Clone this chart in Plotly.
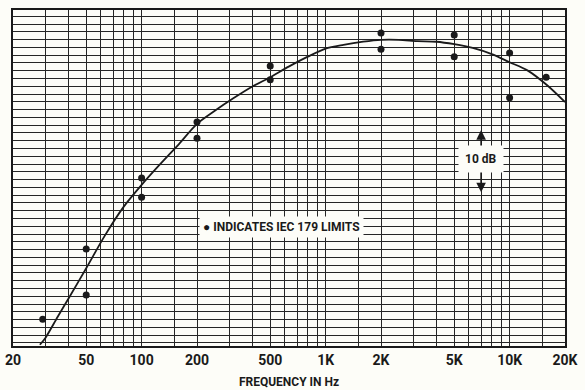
import math

import plotly.graph_objects as go

# Weighting curve (dB, relative to 1 kHz ~ 0 dB)
curve_freq = [28, 30, 35, 40, 50, 63, 80, 100, 125, 160, 200, 250, 315, 400, 500,
              630, 800, 1000, 1250, 1600, 2000, 2500, 3150, 4000, 5000, 6300,
              8000, 10000, 12500, 16000, 20000]
curve_db = [-47.8, -46.7, -43.3, -40.4, -35.5, -30.3, -25.6, -22.1, -18.9, -15.5,
            -12.3, -10.2, -8.2, -6.3, -4.8, -3.1, -1.5, -0.2, 0.4, 0.9, 1.2, 1.2,
            1.0, 0.9, 0.5, -0.1, -1.1, -2.4, -3.7, -6.1, -8.8]

# IEC 179 tolerance points (dots)
limit_freq = [29, 50, 50, 100, 100, 200, 200, 500, 500, 2000, 2000, 5000, 5000,
              10000, 10000, 15800]
limit_db = [-43.7, -32.4, -39.8, -21.0, -24.1, -12.0, -14.6, -3.0, -5.2, 2.3,
            -0.3, 2.0, -1.5, -0.9, -8.1, -4.8]

# x axis: grid at 1, 1.5, 2..9 of each decade, labels only at 1-2-5
grid_freq = [m * d for d in (10, 100, 1000, 10000)
             for m in (1, 1.5, 2, 3, 4, 5, 6, 7, 8, 9)]
grid_freq = [f for f in grid_freq if 20 <= f <= 20000]
label_map = {20: "20", 50: "50", 100: "100", 200: "200", 500: "500",
             1000: "1K", 2000: "2K", 5000: "5K", 10000: "10K", 20000: "20K"}
tick_text = [label_map.get(f, "") for f in grid_freq]

# 10 dB scale marker
scale_freq = 7000
scale_top, scale_bottom = -13.3, -23.3

FONT = "Roboto, Liberation Sans, sans-serif"
INK = "#1a1a1a"
GRID = "#262626"
PAPER = "#fdfdf8"

fig = go.Figure()

fig.add_trace(go.Scatter(
    x=curve_freq, y=curve_db, mode="lines",
    line=dict(color=INK, width=1.8, shape="spline", smoothing=0.8),
    hoverinfo="skip", showlegend=False,
))
fig.add_trace(go.Scatter(
    x=limit_freq, y=limit_db, mode="markers",
    marker=dict(color=INK, size=7), showlegend=False,
))

# arrows of the 10 dB marker (annotation x on a log axis is given in log10)
mid = (scale_top + scale_bottom) / 2
for tip in (scale_top, scale_bottom):
    fig.add_annotation(
        x=math.log10(scale_freq), y=tip, xref="x", yref="y",
        ax=math.log10(scale_freq), ay=mid, axref="x", ayref="y",
        showarrow=True, arrowhead=2, arrowsize=1.2, arrowwidth=1.6,
        arrowcolor=INK, text="",
    )

fig.add_annotation(
    x=0.889, y=0.557, xref="paper", yref="paper", text="<b>10 dB</b>",
    showarrow=False, font=dict(family=FONT, size=12, color=INK),
    bgcolor=PAPER, borderpad=6,
)
fig.add_annotation(
    x=0.487, y=0.321, xref="paper", yref="paper",
    text="<b>● INDICATES IEC 179 LIMITS</b>",
    showarrow=False, font=dict(family=FONT, size=12, color=INK),
    bgcolor=PAPER, borderpad=3,
)

fig.update_xaxes(
    type="log", range=[math.log10(20), math.log10(20000)],
    tickvals=grid_freq, ticktext=tick_text, ticks="",
    showgrid=True, gridcolor=GRID, gridwidth=1,
    showline=True, linecolor=INK, linewidth=2, mirror=True,
    tickfont=dict(family=FONT, size=14, color=INK, weight="bold"),
    title=dict(text="<b>FREQUENCY IN Hz</b>", standoff=11,
               font=dict(family=FONT, size=12, color=INK)),
    zeroline=False, automargin=False,
)
fig.update_yaxes(
    range=[-48, 6], tick0=0, dtick=1.25, showticklabels=False, ticks="",
    showgrid=True, gridcolor=GRID, gridwidth=1,
    showline=True, linecolor=INK, linewidth=2, mirror=True,
    zeroline=False, automargin=False,
)

fig.update_layout(
    width=585, height=390,
    margin=dict(l=13, r=20, t=10, b=44),
    paper_bgcolor=PAPER, plot_bgcolor=PAPER,
    showlegend=False,
)

# drop the browser's default 8px body margin so the figure sits at the corner
fig.write_html("out.html", config={"displayModeBar": False},
               post_script="document.body.style.margin='0';")
